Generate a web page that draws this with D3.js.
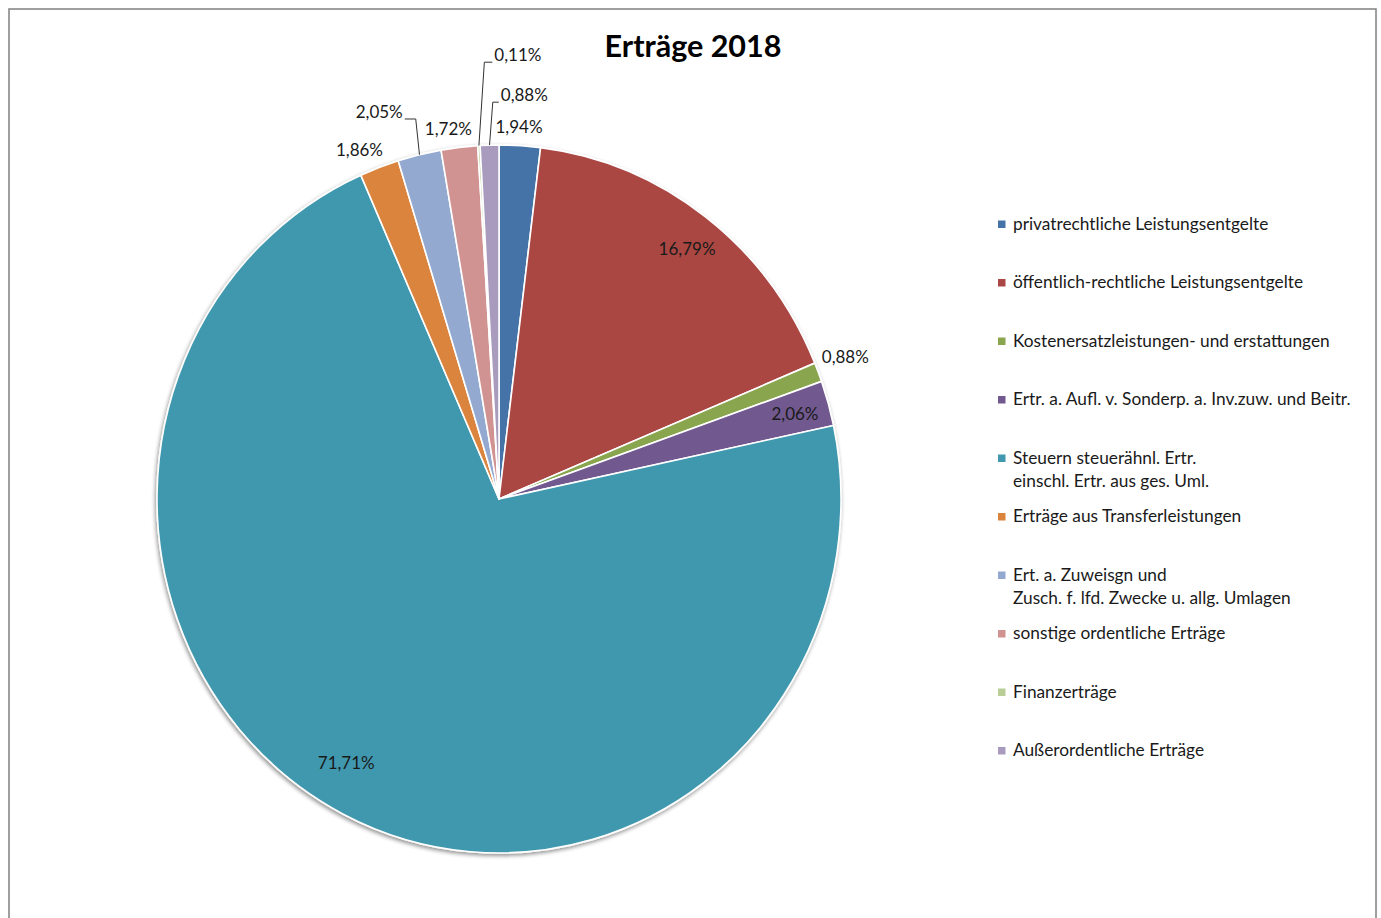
<!DOCTYPE html>
<html><head><meta charset="utf-8">
<script src="https://cdn.jsdelivr.net/npm/d3@7"></script>
<style>
html,body{margin:0;padding:0;background:#fff;}
svg{display:block;font-family:Lato,"Open Sans",sans-serif;}
</style></head>
<body>
<svg id="chart" width="1381" height="918"></svg>
<script>
// ---- data ----
const title = "Erträge 2018";
const categories = [
  "privatrechtliche Leistungsentgelte",
  "öffentlich-rechtliche Leistungsentgelte",
  "Kostenersatzleistungen- und erstattungen",
  "Ertr. a. Aufl. v. Sonderp. a. Inv.zuw. und Beitr.",
  "Steuern steuerähnl. Ertr.\neinschl. Ertr. aus ges. Uml.",
  "Erträge aus Transferleistungen",
  "Ert. a. Zuweisgn und\nZusch. f. lfd. Zwecke u. allg. Umlagen",
  "sonstige ordentliche Erträge",
  "Finanzerträge",
  "Außerordentliche Erträge"
];
const values = [1.94, 16.79, 0.88, 2.06, 71.71, 1.86, 2.05, 1.72, 0.11, 0.88];
const colors = ["#4572A7","#AA4643","#89A54E","#71588F","#4198AF","#DB843D","#93A9CF","#D19392","#B9CD96","#A99BBD"];

// ---- label placement (style) ----
const labelStyle = [
  {r:1.053, da:-0.3},
  {r:0.895, da:0.7},
  {r:1.089, da:-0.6},
  {r:0.898, da:0.2},
  {r:0.87,  da:3.8},
  {r:1.067, da:-2.0},
  {r:1.109, da:-1.1, leader:true, anchor:"end", elbow:12},
  {r:1.056, da:-1.4},
  {r:1.234, da:2.6, leader:true, anchor:"start", elbow:9},
  {r:1.121, da:1.7, leader:true, anchor:"start", elbow:7}
];

const svg = d3.select("#chart");
const cx = 499, cy = 499, rx = 342, ry = 354;

// frame
svg.append("rect").attr("x",9).attr("y",9).attr("width",1367).attr("height",930)
  .attr("fill","#fff").attr("stroke","#888").attr("stroke-width",1.6);

// title
svg.append("text").attr("x",693).attr("y",57).attr("text-anchor","middle")
  .attr("font-size",30.5).attr("font-weight","bold").attr("fill","#000").text(title);

// shadow filter
const defs = svg.append("defs");
const f = defs.append("filter").attr("id","sh").attr("x","-10%").attr("y","-10%").attr("width","120%").attr("height","120%");
f.append("feGaussianBlur").attr("in","SourceAlpha").attr("stdDeviation",2.2).attr("result","b");
f.append("feOffset").attr("in","b").attr("dx",-1).attr("dy",2).attr("result","o");
f.append("feComponentTransfer").attr("in","o").attr("result","o2")
  .append("feFuncA").attr("type","linear").attr("slope",0.45);
const m = f.append("feMerge");
m.append("feMergeNode").attr("in","o2");
m.append("feMergeNode").attr("in","SourceGraphic");

const pie = d3.pie().sort(null).value(d=>d);
const arcs = pie(values);
const arc = d3.arc().innerRadius(0).outerRadius(rx);

const g = svg.append("g").attr("transform",`translate(${cx},${cy}) scale(1,${ry/rx})`)
  .attr("filter","url(#sh)");
g.selectAll("path").data(arcs).enter().append("path")
  .attr("d",arc).attr("fill",(d,i)=>colors[i])
  .attr("stroke","#fff").attr("stroke-width",1.6).attr("stroke-linejoin","round");

function polar(angRad, r){
  return [cx + rx*r*Math.sin(angRad), cy - ry*r*Math.cos(angRad)];
}
const fmt = v => d3.format(".2f")(v).replace(".",",") + "%";

const lg = svg.append("g").attr("font-size",17).attr("fill","#1a1a1a");
arcs.forEach((a,i)=>{
  const s = labelStyle[i];
  const mid = (a.startAngle + a.endAngle)/2;
  const p = polar(mid + s.da*Math.PI/180, s.r);
  if(!s.leader){
    lg.append("text").attr("x",p[0]).attr("y",p[1]).attr("dy","0.35em")
      .attr("text-anchor","middle").text(fmt(values[i]));
  } else {
    const e = polar(mid, 1.0);
    const dir = s.anchor==="start" ? 1 : -1;
    const elbow = [p[0] - dir*s.elbow, p[1]];
    svg.append("path")
      .attr("d", d3.line()([e, elbow, [p[0]-dir*1, p[1]]]))
      .attr("fill","none").attr("stroke","#333").attr("stroke-width",1);
    lg.append("text").attr("x",p[0]+dir*1).attr("y",p[1]-1)
      .attr("text-anchor",s.anchor).text(fmt(values[i]));
  }
});

// legend
const legY = d3.scaleBand().domain(d3.range(categories.length)).range([195,780]);
const leg = svg.append("g").attr("font-size",17.3).attr("fill","#1a1a1a");
categories.forEach((c,i)=>{
  const y = legY(i) + legY.bandwidth()/2;
  leg.append("rect").attr("x",998).attr("y",y-3.75).attr("width",7.5).attr("height",7.5).attr("fill",colors[i]);
  const t = leg.append("text").attr("x",1013).attr("y",y+5.5);
  c.split("\n").forEach((line,k)=>{
    t.append("tspan").attr("x",1013).attr("dy",k===0?0:23).text(line);
  });
});
</script>
</body></html>
